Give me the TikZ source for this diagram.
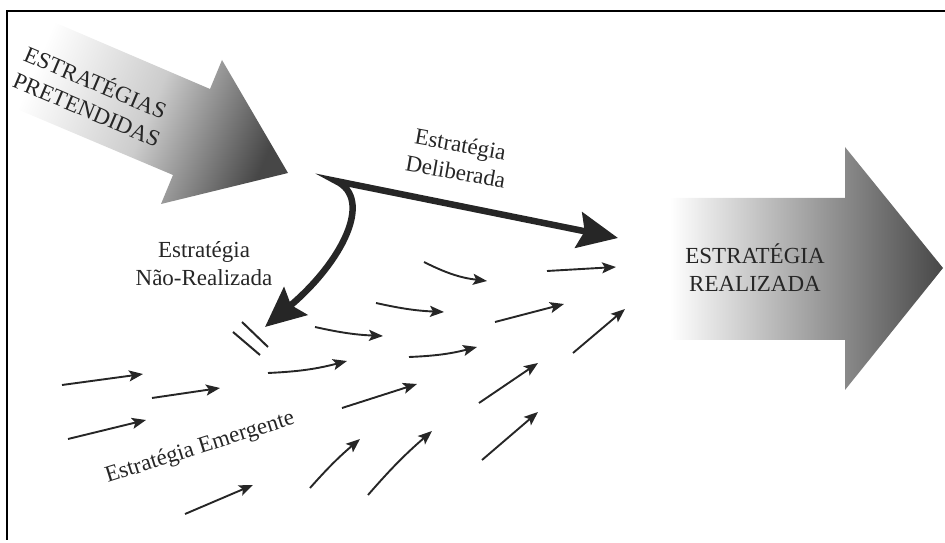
\documentclass[tikz,border=0pt]{standalone}
\usepackage{fontspec}
\setmainfont{Liberation Serif}
\usetikzlibrary{arrows.meta, positioning}
\tikzstyle{plaintext} = [text=black!85, font=\fontsize{23}{28}\selectfont, align=center, inner sep=0pt]
\tikzstyle{bigshade} = [left color=white, right color=black!72]
\tikzstyle{thickarrow} = [line width=6.5pt, draw=black!85, line join=miter, miter limit=25,
{Stealth[length=40pt, width=36pt, inset=6pt]}-{Stealth[length=40pt, width=36pt, inset=6pt]}]
\tikzstyle{smallarrow} = [line width=1.9pt, draw=black!85, -{Stealth[length=14pt, width=11pt, inset=3pt]}]
\tikzstyle{borderline} = [line width=2.5pt]

\begin{document}
\begin{tikzpicture}[x=1pt, y=1pt]
    \useasboundingbox (0,0) rectangle (945,543);

    %Big Arrows
    \shade[bigshade, middle color=black!20, shading angle=67] (288,370) -- (222,483) -- (210,454)
        -- (49,523) -- (12,436) -- (173,368) -- (161,339) -- cycle;
    \shade[bigshade] (943,275) -- (845,396) -- (845,345) -- (670,345) -- (670,203) -- (845,203)
        -- (845,153) -- cycle;

    %Main Nodes
    \node (pretend) [plaintext, align=left, rotate=-23] at (93,448) {ESTRATÉGIAS\\PRETENDIDAS};
    \node (realiz) [plaintext] at (755,275) {ESTRATÉGIA\\REALIZADA};
    \node (delib) [plaintext, rotate=-10] at (458,385) {Estratégia\\Deliberada};
    \node (naoreal) [plaintext] at (204,279) {Estratégia\\Não-Realizada};
    \node (emerg) [plaintext, rotate=17.5] at (200,95) {Estratégia Emergente};

    %Coordinates
    \coordinate (split) at (336,362);
    \coordinate (delTip) at (618,305);
    \coordinate (naoTip) at (265,216);

    %Thick Arrows
    \draw [thickarrow] (naoTip) .. controls (342,281) and (374,344) .. (split) -- (delTip);

    %Block mark
    \draw [line width=2pt, black!85] (242,221) -- (268,196);
    \draw [line width=2pt, black!85] (233,211) -- (260,188);

    %Small Arrows
    \draw [smallarrow] (62,158) -- (143,169);
    \draw [smallarrow] (152,145) -- (220,155);
    \draw [smallarrow] (68,104) -- (146,123);
    \draw [smallarrow] (185,29) -- (253,58);
    \draw [smallarrow] (310,55) to[bend left=4] (360,104);
    \draw [smallarrow] (368,48) to[bend left=4] (432,112);
    \draw [smallarrow] (268,170) to[bend right=6] (347,182);
    \draw [smallarrow] (342,135) -- (417,159);
    \draw [smallarrow] (409,186) to[bend right=6] (477,196);
    \draw [smallarrow] (424,281) to[bend right=10] (487,262);
    \draw [smallarrow] (376,240) to[bend right=5] (444,231);
    \draw [smallarrow] (315,216) to[bend right=5] (383,207);
    \draw [smallarrow] (495,221) -- (564,239);
    \draw [smallarrow] (547,272) -- (616,276);
    \draw [smallarrow] (573,190) -- (625,234);
    \draw [smallarrow] (479,140) -- (538,180);
    \draw [smallarrow] (482,83) -- (538,131);

    %Frame
    \draw [borderline] (7,3) -- (7,532) -- (945,532);
\end{tikzpicture}
\end{document}
